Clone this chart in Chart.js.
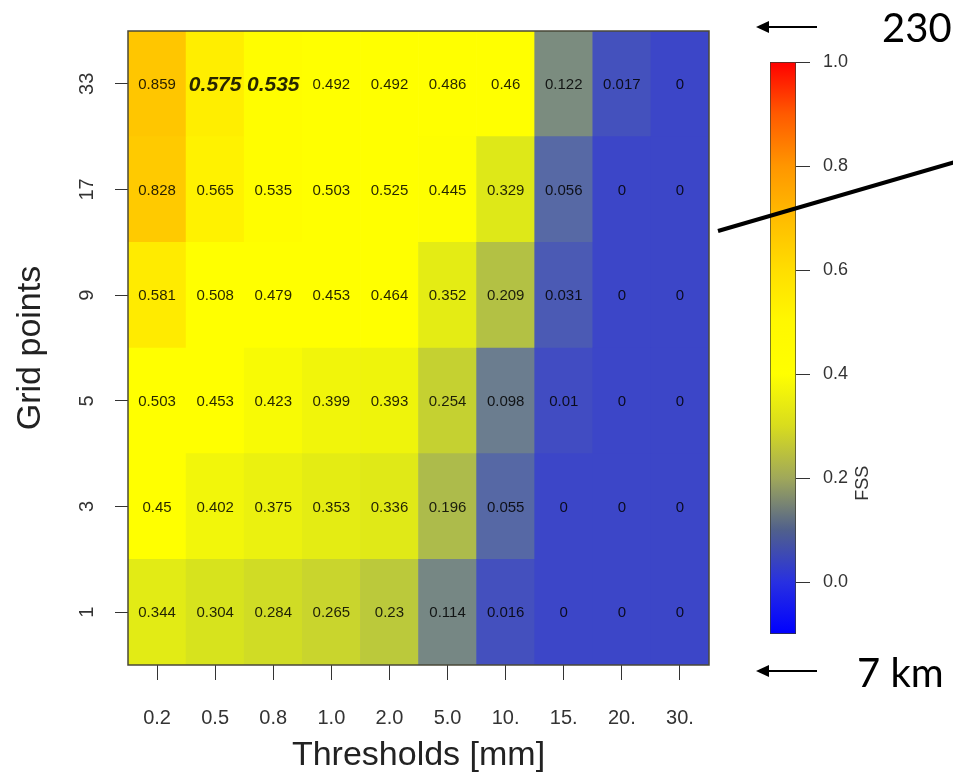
<!DOCTYPE html>
<html>
<head>
<meta charset="utf-8">
<script src="https://cdn.jsdelivr.net/npm/chart.js@4.4.0/dist/chart.umd.min.js"></script>
<style>
  body { margin: 0; background: #fff; }
  #wrap { position: relative; width: 953px; height: 776px; overflow: hidden; }
  #wrap canvas { position: absolute; left: 0; top: 0; }
</style>
</head>
<body>
<div id="wrap">
  <canvas id="fssChart" width="953" height="776"></canvas>
  <canvas id="barChart" width="953" height="776"></canvas>
</div>
<script>
// x: precipitation thresholds, y: neighbourhood size (bottom to top)
const thresholds = ['0.2', '0.5', '0.8', '1.0', '2.0', '5.0', '10.', '15.', '20.', '30.'];
const gridPoints = ['1', '3', '5', '9', '17', '33'];

// FSS per neighbourhood size, one value per threshold
const fss1  = [0.344, 0.304, 0.284, 0.265, 0.23,  0.114, 0.016, 0,     0,     0];
const fss3  = [0.45,  0.402, 0.375, 0.353, 0.336, 0.196, 0.055, 0,     0,     0];
const fss5  = [0.503, 0.453, 0.423, 0.399, 0.393, 0.254, 0.098, 0.01,  0,     0];
const fss9  = [0.581, 0.508, 0.479, 0.453, 0.464, 0.352, 0.209, 0.031, 0,     0];
const fss17 = [0.828, 0.565, 0.535, 0.503, 0.525, 0.445, 0.329, 0.056, 0,     0];
const fss33 = [0.859, 0.575, 0.535, 0.492, 0.492, 0.486, 0.46,  0.122, 0.017, 0];
const fssRows = [fss1, fss3, fss5, fss9, fss17, fss33];

// [row, col] of the values printed in bold italic
const boldCells = [[5, 1], [5, 2]];

// colour bar
const cbRange = [-0.1, 1.0];
const cbTicks = [0.0, 0.2, 0.4, 0.6, 0.8, 1.0];

const FONT = '"Liberation Sans", Arial, sans-serif';

// colours as they show in the cells
const cellStops = [
  [0.0,  [60, 70, 200]],
  [0.05, [84, 102, 168]],
  [0.1,  [108, 126, 142]],
  [0.2,  [176, 190, 72]],
  [0.3,  [214, 226, 30]],
  [0.45, [255, 255, 0]],
  [0.53, [255, 255, 0]],
  [0.6,  [255, 228, 0]],
  [0.86, [255, 198, 0]],
  [1.0,  [255, 60, 0]]
];
// colours of the legend bar
const barStops = [
  [-0.1, [0, 0, 255]],
  [0.0,  [40, 48, 225]],
  [0.1,  [80, 96, 140]],
  [0.2,  [160, 168, 90]],
  [0.3,  [216, 220, 30]],
  [0.4,  [255, 255, 0]],
  [0.5,  [255, 248, 0]],
  [0.6,  [255, 222, 0]],
  [0.7,  [255, 188, 0]],
  [0.8,  [255, 150, 0]],
  [0.9,  [255, 90, 0]],
  [1.0,  [255, 0, 0]]
];

function lerpColor(stops, v) {
  if (v <= stops[0][0]) return stops[0][1];
  for (let i = 1; i < stops.length; i++) {
    if (v <= stops[i][0]) {
      const [v0, c0] = stops[i - 1];
      const [v1, c1] = stops[i];
      const t = (v - v0) / (v1 - v0);
      return c0.map((c, k) => Math.round(c + (c1[k] - c) * t));
    }
  }
  return stops[stops.length - 1][1];
}
const rgb = c => 'rgb(' + c[0] + ',' + c[1] + ',' + c[2] + ')';

// numbers inside the cells
const cellLabels = {
  id: 'cellLabels',
  afterDatasetsDraw(chart) {
    const ctx = chart.ctx;
    ctx.save();
    ctx.textAlign = 'center';
    ctx.textBaseline = 'middle';
    chart.data.datasets.forEach((ds, r) => {
      chart.getDatasetMeta(r).data.forEach((bar, c) => {
        const v = fssRows[r][c];
        const bold = boldCells.some(b => b[0] === r && b[1] === c);
        ctx.font = bold ? 'italic bold 21px ' + FONT : '15px ' + FONT;
        ctx.fillStyle = 'rgba(0,0,0,0.85)';
        ctx.fillText(String(v), bar.x, (bar.y + bar.base) / 2 + 1);
      });
    });
    ctx.restore();
  }
};

// box around the plot
const frame = {
  id: 'frame',
  afterDraw(chart) {
    const {left, top, width, height} = chart.chartArea;
    const ctx = chart.ctx;
    ctx.save();
    ctx.strokeStyle = '#4a4838';
    ctx.lineWidth = 1.5;
    ctx.strokeRect(left, top, width, height);
    ctx.restore();
  }
};

const datasets = fssRows.map((row, r) => ({
  label: gridPoints[r],
  data: row.map(() => [r, r + 1]),
  backgroundColor: row.map(v => rgb(lerpColor(cellStops, v))),
  borderWidth: 0,
  grouped: false,
  barPercentage: 1,
  categoryPercentage: 1
}));

const fssChart = new Chart(document.getElementById('fssChart'), {
  type: 'bar',
  data: { labels: thresholds, datasets: datasets },
  options: {
    responsive: false,
    animation: false,
    events: [],
    layout: { padding: { left: 0, top: 31, right: 244, bottom: 0 } },
    plugins: { legend: { display: false }, tooltip: { enabled: false } },
    scales: {
      x: {
        afterFit: s => { s.height = 111; },
        grid: { drawOnChartArea: false, offset: false, tickLength: 15, color: '#333', lineWidth: 1 },
        border: { display: false },
        ticks: { color: '#333', padding: 26, font: { family: FONT, size: 20 }, maxRotation: 0 },
        title: { display: true, text: 'Thresholds [mm]', color: '#222', font: { family: FONT, size: 34 }, padding: { top: 0, bottom: 0 } }
      },
      y: {
        min: 0,
        max: gridPoints.length,
        afterFit: s => { s.width = 128; },
        afterBuildTicks: s => { s.ticks = gridPoints.map((g, i) => ({ value: i + 0.5 })); },
        grid: { drawOnChartArea: false, tickLength: 13, color: '#333', lineWidth: 1 },
        border: { display: false },
        ticks: {
          color: '#333', padding: 16, crossAlign: 'center', minRotation: 90, maxRotation: 90,
          font: { family: FONT, size: 20 },
          callback: (v, i) => gridPoints[i]
        },
        title: { display: true, text: 'Grid points', color: '#222', font: { family: FONT, size: 34 }, padding: { top: 10, bottom: 0 } }
      }
    }
  },
  plugins: [cellLabels, frame]
});

// legend label and the slide annotations drawn on top
const overlay = {
  id: 'overlay',
  afterDraw(chart) {
    const ctx = chart.ctx;
    const area = chart.chartArea;
    const y = chart.scales.y;
    ctx.save();
    // FSS label, reading upwards
    ctx.translate(area.right + 67, y.getPixelForValue(0.19));
    ctx.rotate(-Math.PI / 2);
    ctx.font = '18px ' + FONT;
    ctx.fillStyle = '#333';
    ctx.textAlign = 'center';
    ctx.textBaseline = 'middle';
    ctx.fillText('FSS', 0, 0);
    ctx.restore();

    ctx.save();
    ctx.strokeStyle = '#000';
    ctx.fillStyle = '#000';
    const arrow = (x0, x1, yy) => {
      ctx.lineWidth = 2;
      ctx.beginPath(); ctx.moveTo(x0, yy); ctx.lineTo(x1 + 10, yy); ctx.stroke();
      ctx.beginPath(); ctx.moveTo(x1, yy); ctx.lineTo(x1 + 13, yy - 6); ctx.lineTo(x1 + 13, yy + 6); ctx.closePath(); ctx.fill();
    };
    arrow(817, 756, 27);
    arrow(817, 756, 671);
    ctx.font = '40px Lato, "Open Sans", sans-serif';
    ctx.textAlign = 'left';
    ctx.textBaseline = 'alphabetic';
    ctx.fillText('230', 882, 42);
    ctx.fillText('7 km', 857, 687);
    ctx.lineWidth = 4;
    ctx.beginPath(); ctx.moveTo(718, 231); ctx.lineTo(955, 162); ctx.stroke();
    ctx.restore();
  }
};

const barChart = new Chart(document.getElementById('barChart'), {
  type: 'bar',
  data: {
    labels: ['FSS'],
    datasets: [{
      data: [cbRange],
      backgroundColor: (c) => {
        const ch = c.chart;
        if (!ch.chartArea) return null;
        const sy = ch.scales.y;
        const g = ch.ctx.createLinearGradient(0, sy.getPixelForValue(cbRange[0]), 0, sy.getPixelForValue(cbRange[1]));
        barStops.forEach(s => g.addColorStop((s[0] - cbRange[0]) / (cbRange[1] - cbRange[0]), rgb(s[1])));
        return g;
      },
      borderColor: '#3a3a30',
      borderWidth: 1,
      borderSkipped: false,
      barPercentage: 1,
      categoryPercentage: 1
    }]
  },
  options: {
    responsive: false,
    animation: false,
    events: [],
    layout: { padding: { left: 770, top: 62, right: 57, bottom: 142 } },
    plugins: { legend: { display: false }, tooltip: { enabled: false } },
    scales: {
      x: { display: false },
      y: {
        position: 'right',
        min: cbRange[0],
        max: cbRange[1],
        afterFit: s => { s.width = 100; },
        afterBuildTicks: s => { s.ticks = cbTicks.map(v => ({ value: v })); },
        grid: { drawOnChartArea: false, tickLength: 14, color: '#333', lineWidth: 1 },
        border: { display: false },
        ticks: { color: '#333', padding: 13, font: { family: FONT, size: 18 }, callback: v => v.toFixed(1) }
      }
    }
  },
  plugins: [overlay]
});
</script>
</body>
</html>
